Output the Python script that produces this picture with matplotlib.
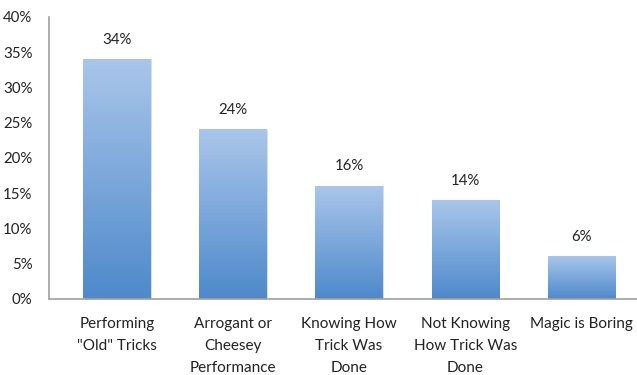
import numpy as np
import matplotlib
matplotlib.use("Agg")
import matplotlib.pyplot as plt
from matplotlib.colors import LinearSegmentedColormap

categories = ['Performing\n"Old" Tricks', 'Arrogant or\nCheesey\nPerformance',
              'Knowing How\nTrick Was\nDone', 'Not Knowing\nHow Trick Was\nDone',
              'Magic is Boring']
values = [34, 24, 16, 14, 6]
yticks = [0, 5, 10, 15, 20, 25, 30, 35, 40]

plt.rcParams['font.family'] = ['Lato', 'DejaVu Sans']

fig = plt.figure(figsize=(6.37, 3.75), dpi=100)
ax = fig.add_axes([0.077, 0.2027, 0.923, 0.752])

x = np.arange(len(values))
bars = ax.bar(x, values, width=0.58, color='none', edgecolor='#c9d9ee', linewidth=0.6)

# vertical gradient inside each bar
cmap = LinearSegmentedColormap.from_list('blue_grad', ['#a9c6ea', '#4e89cb'])
grad = np.linspace(0, 1, 256).reshape(-1, 1)
for b in bars:
    x0, y0 = b.get_x(), b.get_y()
    w, h = b.get_width(), b.get_height()
    ax.imshow(grad, cmap=cmap, aspect='auto', origin='upper',
              extent=[x0, x0 + w, y0, y0 + h], zorder=2)
    ax.text(x0 + w / 2, h + 1.8, f"{int(h)}%", ha='center', va='bottom',
            fontsize=10.8, color='#222222')

ax.set_xlim(-0.585, 4.48)
ax.set_ylim(0, 40)
ax.set_yticks(yticks)
ax.set_yticklabels([f"{t}%" for t in yticks], fontsize=10.8)
ax.set_xticks(x)
ax.set_xticklabels(categories, fontsize=11, linespacing=1.72, va='top')
ax.tick_params(axis='both', length=0, colors='#222222')
ax.tick_params(axis='y', pad=12)
ax.tick_params(axis='x', pad=13)

for s in ['top', 'right']:
    ax.spines[s].set_visible(False)
for s in ['left', 'bottom']:
    ax.spines[s].set_color('#a0a0a0')
    ax.spines[s].set_linewidth(1.2)

fig.savefig('out.png', dpi=100)
